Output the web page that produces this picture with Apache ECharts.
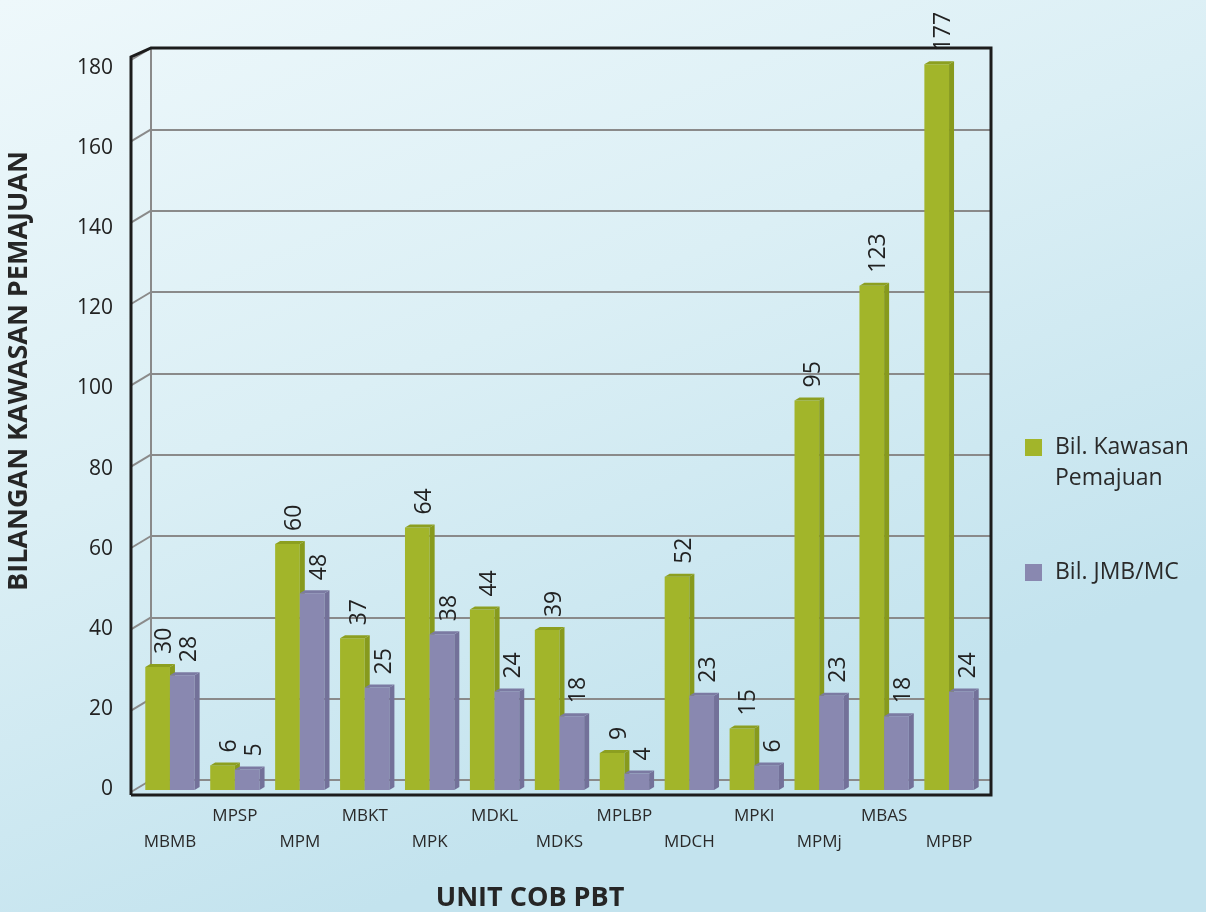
<!DOCTYPE html>
<html>
<head>
<meta charset="utf-8">
<script src="https://cdn.jsdelivr.net/npm/echarts@6/dist/echarts.min.js"></script>
<style>
  html, body { margin: 0; padding: 0; }
  #chart { width: 1206px; height: 912px; }
</style>
</head>
<body>
<div id="chart"></div>
<script>
var categories = ["MBMB", "MPSP", "MPM", "MBKT", "MPK", "MDKL", "MDKS", "MPLBP", "MDCH", "MPKI", "MPMj", "MBAS", "MPBP"];
var kawasan = [30, 6, 60, 37, 64, 44, 39, 9, 52, 15, 95, 123, 177];
var jmb = [28, 5, 48, 25, 38, 24, 18, 4, 23, 6, 23, 18, 24];
var seriesNames = ["Bil. Kawasan Pemajuan", "Bil. JMB/MC"];
var yTicks = [0, 20, 40, 60, 80, 100, 120, 140, 160, 180];

var FONT = "'Open Sans', 'DejaVu Sans', sans-serif";
var depthX = -20, depthY = 12; // side wall slant (back -> front)

// front, side, top colours of each bar set
var greenFaces = ["#a2b52a", "#879a1d", "#8c9f20"];
var purpleFaces = ["#8988b0", "#737199", "#7b7aa2"];

function barRenderer(faces, shift) {
  return function (params, api) {
    var i = api.value(0);
    var v = api.value(1);
    var top = api.coord([i, v]);
    var base = api.coord([i, 0]);
    var band = api.size([1, 0])[0];
    var w = band * 0.38;
    var x0 = top[0] + shift * w;
    var x1 = x0 + w;
    var yt = top[1], yb = base[1];
    var dx = 5, dy = -3;
    return {
      type: "group",
      children: [
        { type: "rect", shape: { x: x0, y: yt, width: w, height: yb - yt }, style: { fill: faces[0] } },
        { type: "polygon", shape: { points: [[x1, yt], [x1 + dx, yt + dy], [x1 + dx, yb + dy], [x1, yb]] }, style: { fill: faces[1] } },
        { type: "polygon", shape: { points: [[x0, yt], [x1, yt], [x1 + dx, yt + dy], [x0 + dx, yt + dy]] }, style: { fill: faces[2] } },
        {
          type: "text", x: x0 + w / 2 + 7, y: yt - 13, rotation: Math.PI / 2,
          style: { text: String(v), align: "left", verticalAlign: "middle", font: "23px " + FONT, fill: "#222" }
        }
      ]
    };
  };
}

var chart = echarts.init(document.getElementById("chart"));
var option = {
  backgroundColor: {
    type: "linear", x: 0, y: 0, x2: 0.3, y2: 1,
    colorStops: [
      { offset: 0, color: "#eef8fb" },
      { offset: 0.5, color: "#dbeff5" },
      { offset: 1, color: "#c3e3ee" }
    ]
  },
  animation: false,
  textStyle: { fontFamily: FONT },
  grid: [
    { left: 151, right: 215, top: 48, bottom: 132 },   // back wall
    { left: 137.5, right: 224.5, top: 52, bottom: 122 }, // bars
    { left: 131, right: 215, top: 68, bottom: 123 }    // tick labels
  ],
  xAxis: [
    { gridIndex: 0, type: "value", min: 0, max: 1, show: false },
    {
      gridIndex: 1, type: "category", data: categories,
      axisLine: { show: false }, axisTick: { show: false },
      axisLabel: {
        interval: 0, margin: 13, fontSize: 17, lineHeight: 26, color: "#2a2a2a",
        formatter: function (v, i) { return i % 2 ? v : "\n" + v; }
      }
    },
    { gridIndex: 2, type: "value", min: 0, max: 1, show: false }
  ],
  yAxis: [
    {
      gridIndex: 0, min: 0, max: 180, interval: 20,
      axisLabel: { show: false }, axisTick: { show: false },
      axisLine: { show: true, lineStyle: { color: "#8a8a8a", width: 2 } },
      splitLine: { lineStyle: { color: "#8a8a8a", width: 2 } }
    },
    { gridIndex: 1, min: 0, max: 180, show: false },
    {
      gridIndex: 2, min: 0, max: 180, interval: 20,
      axisLine: { show: false }, axisTick: { show: false }, splitLine: { show: false },
      axisLabel: { margin: 18, fontSize: 21, color: "#222" }
    }
  ],
  legend: {
    orient: "vertical", left: 1025, top: 401, padding: 0,
    itemWidth: 17, itemHeight: 17, itemGap: 63, icon: "rect",
    data: seriesNames,
    textStyle: { fontSize: 23, lineHeight: 31, color: "#2a2a2a", padding: [0, 0, 0, 8] },
    formatter: function (name) {
      return name === seriesNames[0] ? "\nBil. Kawasan\nPemajuan" : name;
    }
  },
  graphic: [
    {
      type: "text", x: 19, y: 371, rotation: Math.PI / 2,
      style: { text: "BILANGAN KAWASAN PEMAJUAN", align: "center", verticalAlign: "middle", font: "bold 27px " + FONT, fill: "#262626" }
    },
    {
      type: "text", x: 530, y: 898,
      style: { text: "UNIT COB PBT", align: "center", verticalAlign: "middle", font: "bold 27px " + FONT, fill: "#262626" }
    }
  ],
  series: [
    {
      name: "wall", type: "custom", xAxisIndex: 0, yAxisIndex: 0, silent: true, z: 1,
      data: yTicks.map(function (t) { return [0, t]; }),
      renderItem: function (params, api) {
        var p = api.coord([0, api.value(1)]);
        return {
          type: "line",
          shape: { x1: p[0], y1: p[1], x2: p[0] + depthX, y2: p[1] + depthY },
          style: { stroke: "#8a8a8a", lineWidth: 2 }
        };
      }
    },
    {
      name: "frame", type: "custom", xAxisIndex: 0, yAxisIndex: 0, silent: true, z: 5,
      data: [[0, 0]],
      renderItem: function (params, api) {
        var bl = api.coord([0, 0]);
        var tl = api.coord([0, 180]);
        var tr = api.coord([1, 180]);
        var fy = bl[1] + 15;
        return {
          type: "polyline",
          shape: { points: [[tl[0] + depthX, fy], [tl[0] + depthX, tl[1] + 9], tl, tr, [tr[0], fy], [tl[0] + depthX, fy]] },
          style: { stroke: "#1c1c1c", lineWidth: 3, fill: null }
        };
      }
    },
    {
      name: seriesNames[0], type: "custom", xAxisIndex: 1, yAxisIndex: 1, z: 3,
      itemStyle: { color: greenFaces[0] },
      encode: { x: 0, y: 1 },
      data: kawasan.map(function (v, i) { return [i, v]; }),
      renderItem: barRenderer(greenFaces, -1)
    },
    {
      name: seriesNames[1], type: "custom", xAxisIndex: 1, yAxisIndex: 1, z: 4,
      itemStyle: { color: purpleFaces[0] },
      encode: { x: 0, y: 1 },
      data: jmb.map(function (v, i) { return [i, v]; }),
      renderItem: barRenderer(purpleFaces, 0)
    }
  ]
};
chart.setOption(option);
</script>
</body>
</html>
